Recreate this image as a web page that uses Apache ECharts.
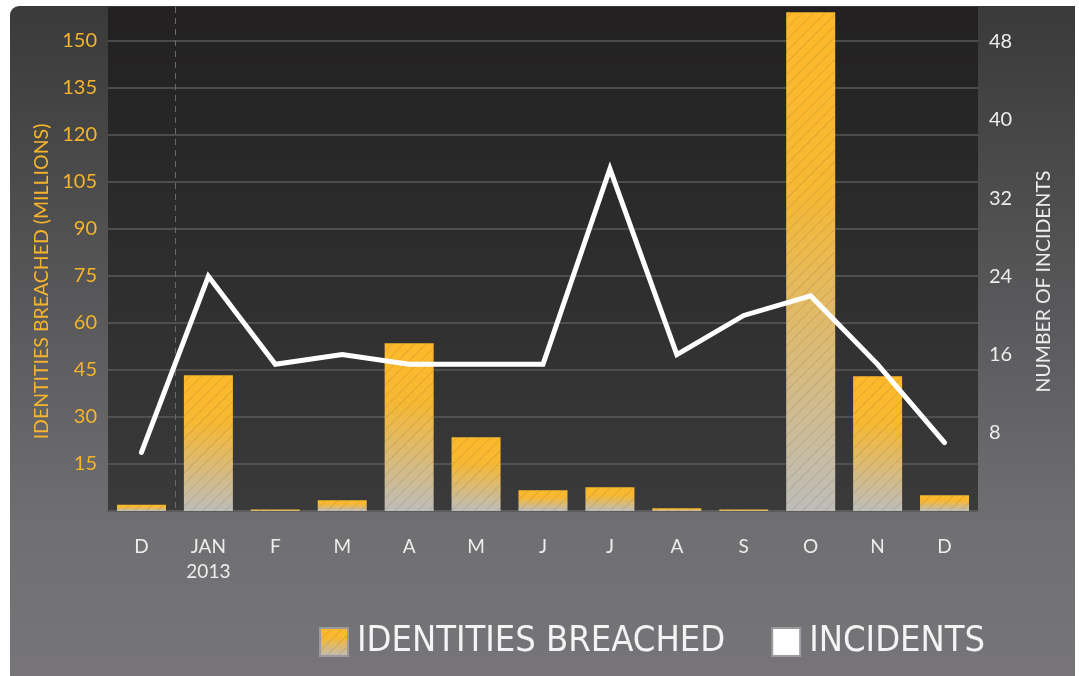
<!DOCTYPE html>
<html>
<head>
<meta charset="utf-8">
<script src="https://cdn.jsdelivr.net/npm/echarts@6/dist/echarts.min.js"></script>
<style>
  html, body { margin: 0; padding: 0; background: #fff; }
  #chart { width: 1079px; height: 676px; }
</style>
</head>
<body>
<div id="chart"></div>
<script>
// months, Dec 2012 .. Dec 2013
const months = ['D', 'JAN\n2013', 'F', 'M', 'A', 'M', 'J', 'J', 'A', 'S', 'O', 'N', 'D'];
// identities breached, millions
const breached = [2, 43.3, 0.5, 3.4, 53.5, 23.5, 6.6, 7.6, 0.9, 0.5, 159, 43, 5];
// number of incidents
const incidents = [6, 24, 15, 16, 15, 15, 15, 35, 16, 20, 22, 15, 7];

const orange = '#f6b42b';
const light = '#ededed';
const labelFont = 'Lato, "Open Sans", sans-serif';

const chart = echarts.init(document.getElementById('chart'), null, { renderer: 'canvas' });

// bar fill: orange on top fading to grey at the foot
const barFill = new echarts.graphic.LinearGradient(0, 0, 0, 1, [
    { offset: 0, color: '#fdb92a' },
    { offset: 0.35, color: '#f7b832' },
    { offset: 1, color: '#bebdba' }
]);
const hatch = {
    symbol: 'rect',
    symbolSize: 1,
    color: 'rgba(90, 80, 60, 0.16)',
    dashArrayX: [1, 0],
    dashArrayY: [1, 7],
    rotation: -Math.PI / 4
};

// only the boundary between Dec 2012 and Jan 2013 gets the dashed line
const yearLine = months.concat(['']).map(function (m, i) {
    return i === 1 ? '#6a6a6a' : 'rgba(0,0,0,0)';
});

chart.setOption({
    animation: false,
    graphic: [
        {
            // outer panel
            type: 'rect',
            z: -10,
            shape: { x: 10, y: 6, width: 1065, height: 680, r: [9, 0, 0, 0] },
            style: {
                fill: new echarts.graphic.LinearGradient(0, 0, 0, 1, [
                    { offset: 0, color: '#3a3a3a' },
                    { offset: 0.45, color: '#59585a' },
                    { offset: 0.76, color: '#6f6e70' },
                    { offset: 1, color: '#777579' }
                ])
            }
        }
    ],
    grid: {
        left: 108,
        right: 101,
        top: 7,
        bottom: 165,
        show: true,
        borderWidth: 0,
        backgroundColor: new echarts.graphic.LinearGradient(0, 0, 0, 1, [
            { offset: 0, color: '#222021' },
            { offset: 1, color: '#3a3a3a' }
        ])
    },
    legend: {
        left: 314,
        top: 619,
        itemWidth: 28,
        itemHeight: 28,
        itemGap: 46,
        textStyle: {
            color: '#f4f4f4',
            fontSize: 36,
            fontFamily: '"Liberation Sans Narrow", "DejaVu Sans Condensed", "Open Sans", sans-serif',
            fontWeight: 300,
            padding: [0, 0, 0, 4]
        },
        data: [
            { name: 'IDENTITIES BREACHED', icon: 'rect', itemStyle: { borderColor: '#9c9a9c', borderWidth: 2 } },
            { name: 'INCIDENTS', icon: 'rect', itemStyle: { color: '#ffffff', borderColor: '#9c9a9c', borderWidth: 2 } }
        ]
    },
    xAxis: {
        type: 'category',
        data: months,
        axisLine: { show: true, lineStyle: { color: '#5b5b5b', width: 2 } },
        axisTick: { show: false },
        axisLabel: {
            color: light,
            fontSize: 19,
            fontFamily: labelFont,
            margin: 23,
            lineHeight: 25
        },
        splitLine: {
            show: true,
            interval: 0,
            lineStyle: { color: yearLine, type: [6, 5], width: 1 }
        }
    },
    yAxis: [
        {
            type: 'value',
            min: 0,
            max: 160.7,
            interval: 15,
            name: 'IDENTITIES BREACHED (MILLIONS)',
            nameLocation: 'middle',
            nameRotate: 90,
            nameGap: 56,
            nameTextStyle: {
                color: orange,
                fontSize: 19.5,
                fontFamily: labelFont,
                padding: [0, 45, 0, 0]
            },
            axisLine: { show: false },
            axisTick: { show: false },
            axisLabel: {
                color: orange,
                fontSize: 20,
                fontFamily: labelFont,
                margin: 11,
                showMinLabel: false,
                showMaxLabel: false
            },
            splitLine: {
                show: true,
                showMinLine: false,
                showMaxLine: false,
                lineStyle: { color: '#5a5a5a', width: 1.5 }
            }
        },
        {
            type: 'value',
            min: 0,
            max: 51.55,
            interval: 8,
            name: 'NUMBER OF INCIDENTS',
            nameLocation: 'middle',
            nameRotate: 90,
            nameGap: 56,
            nameTextStyle: {
                color: light,
                fontSize: 19.5,
                fontFamily: labelFont,
                padding: [0, 45, 0, 0]
            },
            axisLine: { show: false },
            axisTick: { show: false },
            axisLabel: {
                color: light,
                fontSize: 20,
                fontFamily: labelFont,
                margin: 11,
                showMinLabel: false,
                showMaxLabel: false
            },
            splitLine: { show: false }
        }
    ],
    series: [
        {
            name: 'IDENTITIES BREACHED',
            type: 'bar',
            data: breached,
            barWidth: 49,
            itemStyle: { color: barFill, decal: hatch }
        },
        {
            name: 'INCIDENTS',
            type: 'line',
            yAxisIndex: 1,
            data: incidents,
            color: '#ffffff',
            symbol: 'none',
            z: 5,
            lineStyle: { color: '#ffffff', width: 5, cap: 'round', join: 'miter' }
        }
    ]
});
</script>
</body>
</html>
